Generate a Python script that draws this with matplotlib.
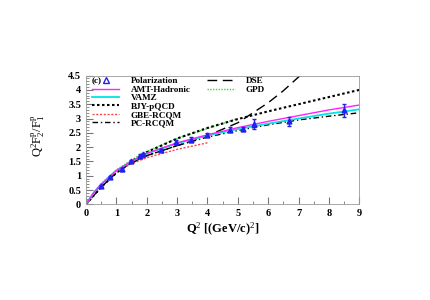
import numpy as np
import matplotlib
matplotlib.use('Agg')
import matplotlib.pyplot as plt
from matplotlib.lines import Line2D
from matplotlib.ticker import MultipleLocator

plt.rcParams['font.family'] = ['Liberation Serif', 'DejaVu Serif']
plt.rcParams['mathtext.fontset'] = 'custom'
plt.rcParams['mathtext.rm'] = 'Liberation Serif'
plt.rcParams['mathtext.it'] = 'Liberation Serif'

# polarization transfer data
q2_pol = [0.49, 0.79, 1.18, 1.48, 1.77, 1.88, 2.47, 2.97, 3.47, 3.97, 4.75, 5.17, 5.54, 6.7, 8.49]
r_pol = [0.65, 0.95, 1.22, 1.5, 1.70, 1.75, 1.9, 2.18, 2.26, 2.44, 2.61, 2.63, 2.80, 2.90, 3.29]
e_pol = [0.03, 0.03, 0.04, 0.04, 0.05, 0.05, 0.05, 0.06, 0.08, 0.07, 0.08, 0.06, 0.17, 0.16, 0.23]

# model curves
q2_full = [0, 0.25, 0.5, 1, 1.5, 2, 3, 4, 5, 6, 7, 8, 9]
amt = [0, 0.4, 0.7, 1.18, 1.5, 1.78, 2.15, 2.43, 2.68, 2.9, 3.1, 3.3, 3.47]
vamz = [0, 0.4, 0.7, 1.18, 1.5, 1.77, 2.13, 2.4, 2.63, 2.82, 3.0, 3.17, 3.32]
pc_rcqm = [0, 0.3, 0.6, 1.1, 1.45, 1.7, 2.05, 2.35, 2.58, 2.78, 2.95, 3.08, 3.2]
bjy = [0, 0.3, 0.6, 1.1, 1.5, 1.82, 2.3, 2.67, 2.98, 3.25, 3.5, 3.75, 4.0]

q2_gpd = [0, 0.25, 0.5, 1, 1.5, 2, 3, 4, 5]
gpd = [0, 0.4, 0.72, 1.2, 1.55, 1.85, 2.3, 2.65, 3.0]

q2_gbe = [0, 0.25, 0.5, 1, 1.5, 2, 3, 4]
gbe = [0, 0.38, 0.68, 1.13, 1.42, 1.63, 1.92, 2.15]

q2_dse = [0, 0.25, 0.5, 1, 1.5, 2, 3, 4, 5, 5.5, 6, 6.5, 7, 7.2]
dse = [0, 0.38, 0.68, 1.15, 1.45, 1.7, 2.05, 2.4, 2.85, 3.2, 3.55, 3.97, 4.45, 4.65]

fig = plt.figure(figsize=(4.31, 3.0), dpi=100)
ax = fig.add_axes([0.1995, 0.319, 0.634, 0.429])

ax.plot(q2_dse, dse, color='black', ls=(0, (7, 4)), lw=1.0)
ax.plot(q2_gpd, gpd, color='#33dd33', ls=(0, (1, 1)), lw=1.0)
ax.plot(q2_full, bjy, color='black', ls=(0, (1.2, 1.2)), lw=1.5)
ax.plot(q2_gbe, gbe, color='#ff4444', ls=(0, (1.5, 1.2)), lw=1.0)
ax.plot(q2_full, pc_rcqm, color='black', ls=(0, (4, 2, 1, 2)), lw=1.0)
ax.plot(q2_full, vamz, color='#00e5e5', lw=1.3)
ax.plot(q2_full, amt, color='#ff22ff', lw=1.0)
ax.errorbar(q2_pol, r_pol, yerr=e_pol, fmt='^', color='#2222ee', ms=3.5,
            elinewidth=1.0, capsize=1.5, zorder=5)

ax.set_xlim(0, 9)
ax.set_ylim(0, 4.5)
ax.xaxis.set_minor_locator(MultipleLocator(0.5))
ax.yaxis.set_minor_locator(MultipleLocator(0.1))
ax.tick_params(which='both', direction='in', labelsize=7.5, color='#777777')
ax.tick_params(which='major', length=5)
ax.tick_params(which='minor', length=2.5)
ax.set_yticks(np.arange(0, 4.6, 0.5))
ax.set_yticklabels(['0', '0.5', '1', '1.5', '2', '2.5', '3', '3.5', '4', '4.5'], fontweight='bold')
ax.set_xticks(range(10))
ax.set_xticklabels([str(i) for i in range(10)], fontweight='bold')
for s in ax.spines.values():
    s.set_linewidth(0.6)
    s.set_color('#999999')

ax.set_xlabel('Q$^{2}$ [(GeV/c)$^{2}$]', fontsize=9, fontweight='bold', labelpad=2)
fig.text(0.088, 0.548, r'Q$^{2}$F$_{2}^{p}$/F$_{1}^{p}$', rotation=90, fontsize=9,
         ha='center', va='center')

h1 = [
    Line2D([], [], ls='none', marker='^', mfc='none', mec='#2222ee', ms=4.5),
    Line2D([], [], color='#ff22ff', lw=1.0),
    Line2D([], [], color='#00e5e5', lw=1.3),
    Line2D([], [], color='black', ls=(0, (1.2, 1.2)), lw=1.5),
    Line2D([], [], color='#ff4444', ls=(0, (1.5, 1.2)), lw=1.0),
    Line2D([], [], color='black', ls=(0, (4, 2, 1, 2)), lw=1.0),
]
l1 = ['Polarization', 'AMT-Hadronic', 'VAMZ', 'BJY-pQCD', 'GBE-RCQM', 'PC-RCQM']
h2 = [
    Line2D([], [], color='black', ls=(0, (7, 4)), lw=1.0),
    Line2D([], [], color='#33dd33', ls=(0, (1, 1)), lw=1.0),
]
l2 = ['DSE', 'GPD']
kw = dict(loc='upper left', frameon=False, prop={'size': 6.6, 'weight': 'bold'},
          handlelength=3.0, labelspacing=0.0, handletextpad=1.2, numpoints=1,
          borderpad=0, borderaxespad=0)
leg1 = ax.legend(h1, l1, bbox_to_anchor=(0.022, 0.99), **kw)
ax.add_artist(leg1)
ax.legend(h2, l2, bbox_to_anchor=(0.443, 0.99), **kw)
ax.text(0.022, 0.96, '(c)', transform=ax.transAxes, fontsize=6.6, fontweight='bold',
        va='center', ha='left')

fig.savefig('out.png', dpi=100)
